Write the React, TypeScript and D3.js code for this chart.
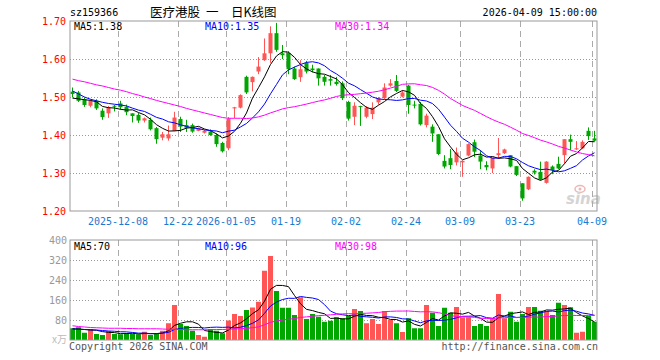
import React from 'react';
import * as d3 from 'd3';

// ---------- data ----------
const dates = [
  '2025-11-26','2025-11-27','2025-11-28','2025-12-01','2025-12-02','2025-12-03','2025-12-04','2025-12-05',
  '2025-12-08','2025-12-09','2025-12-10','2025-12-11','2025-12-12',
  '2025-12-15','2025-12-16','2025-12-17','2025-12-18','2025-12-19',
  '2025-12-22','2025-12-23','2025-12-24','2025-12-25','2025-12-26',
  '2025-12-29','2025-12-30','2025-12-31',
  '2026-01-05','2026-01-06','2026-01-07','2026-01-08','2026-01-09',
  '2026-01-12','2026-01-13','2026-01-14','2026-01-15','2026-01-16',
  '2026-01-19','2026-01-20','2026-01-21','2026-01-22','2026-01-23',
  '2026-01-26','2026-01-27','2026-01-28','2026-01-29','2026-01-30',
  '2026-02-02','2026-02-03','2026-02-04','2026-02-05','2026-02-06',
  '2026-02-09','2026-02-10','2026-02-11','2026-02-12','2026-02-13',
  '2026-02-24','2026-02-25','2026-02-26','2026-02-27',
  '2026-03-02','2026-03-03','2026-03-04','2026-03-05','2026-03-06',
  '2026-03-09','2026-03-10','2026-03-11','2026-03-12','2026-03-13',
  '2026-03-16','2026-03-17','2026-03-18','2026-03-19','2026-03-20',
  '2026-03-23','2026-03-24','2026-03-25','2026-03-26','2026-03-27',
  '2026-03-30','2026-03-31','2026-04-01','2026-04-02','2026-04-03',
  '2026-04-07','2026-04-08','2026-04-09',
];

const opens = [
  1.514,1.512,1.494,1.477,1.490,1.464,1.457,1.477,
  1.483,1.474,1.457,1.453,1.438,
  1.440,1.418,1.393,1.391,1.411,
  1.442,1.426,1.426,1.411,1.406,
  1.409,1.400,1.379,
  1.365,1.470,1.472,1.553,1.539,
  1.567,1.597,1.615,1.668,1.615,
  1.616,1.575,1.552,1.590,1.575,
  1.575,1.553,1.547,1.540,1.536,
  1.487,1.448,1.476,1.448,1.455,
  1.486,1.497,1.530,1.542,1.501,
  1.530,1.480,1.482,1.426,
  1.422,1.402,1.332,1.339,1.328,
  1.328,1.346,1.381,1.346,1.321,
  1.312,1.347,1.352,1.347,1.318,
  1.273,1.257,1.306,1.303,1.274,
  1.317,1.324,1.347,1.389,1.362,
  1.365,1.411,1.391,
];
const highs = [
  1.525,1.516,1.499,1.494,1.494,1.470,1.476,1.479,
  1.490,1.480,1.457,1.458,1.446,
  1.446,1.421,1.408,1.425,1.461,
  1.448,1.440,1.430,1.420,1.413,
  1.415,1.404,1.382,
  1.447,1.474,1.507,1.556,1.554,
  1.605,1.654,1.686,1.695,1.637,
  1.620,1.580,1.597,1.595,1.585,
  1.575,1.558,1.558,1.553,1.541,
  1.490,1.486,1.477,1.476,1.486,
  1.500,1.536,1.547,1.558,1.518,
  1.532,1.490,1.487,1.456,
  1.428,1.402,1.347,1.363,1.367,
  1.333,1.378,1.388,1.360,1.331,
  1.340,1.392,1.364,1.347,1.318,
  1.273,1.291,1.310,1.330,1.331,
  1.320,1.343,1.389,1.401,1.384,
  1.386,1.420,1.411,
];
const lows = [
  1.499,1.487,1.474,1.473,1.466,1.440,1.445,1.462,
  1.467,1.452,1.433,1.432,1.433,
  1.412,1.377,1.386,1.385,1.410,
  1.408,1.408,1.406,1.410,1.404,
  1.398,1.369,1.354,
  1.360,1.444,1.470,1.508,1.515,
  1.560,1.595,1.590,1.619,1.600,
  1.560,1.545,1.540,1.562,1.565,
  1.530,1.530,1.530,1.530,1.492,
  1.438,1.426,1.424,1.444,1.442,
  1.480,1.494,1.527,1.513,1.499,
  1.456,1.470,1.425,1.420,
  1.382,1.347,1.312,1.310,1.320,
  1.290,1.344,1.342,1.310,1.307,
  1.300,1.337,1.350,1.315,1.292,
  1.227,1.255,1.296,1.281,1.272,
  1.297,1.310,1.325,1.360,1.361,
  1.363,1.387,1.383,
];
const closes = [
  1.508,1.490,1.479,1.490,1.470,1.447,1.473,1.475,
  1.473,1.460,1.450,1.438,1.444,
  1.415,1.389,1.402,1.402,1.446,
  1.422,1.419,1.409,1.418,1.411,
  1.400,1.376,1.357,
  1.443,1.473,1.505,1.512,1.553,
  1.580,1.615,1.668,1.624,1.610,
  1.573,1.547,1.573,1.567,1.571,
  1.549,1.540,1.543,1.534,1.497,
  1.443,1.477,1.474,1.472,1.472,
  1.497,1.525,1.536,1.516,1.512,
  1.479,1.479,1.428,1.451,
  1.404,1.350,1.317,1.321,1.354,
  1.332,1.376,1.356,1.330,1.315,
  1.340,1.352,1.362,1.317,1.295,
  1.233,1.290,1.301,1.283,1.330,
  1.308,1.312,1.389,1.382,1.365,
  1.382,1.397,1.385,
];
// volume in 10k lots
const volumes = [
  47,51,29,44,24,20,36,24,
  23,27,24,23,33,
  20,27,37,67,140,
  64,56,37,20,13,
  44,37,27,
  78,104,96,120,130,
  153,277,336,196,129,
  129,100,171,84,104,
  93,73,77,91,87,
  96,124,116,67,84,
  64,116,80,67,32,
  87,47,47,140,
  109,56,129,109,132,
  91,91,56,64,56,
  87,184,87,113,73,
  104,132,132,117,116,
  100,149,140,131,29,
  33,96,73,
];

// moving-average values before enough history is visible
const ma5Head = [1.497, 1.495, 1.493, 1.491];
const ma10Head = [1.516, 1.508, 1.500, 1.494, 1.490, 1.486, 1.483, 1.481, 1.479];
const ma30Head = [
  1.547,1.543,1.540,1.536,1.532,1.529,1.525,1.521,1.518,1.514,
  1.509,1.505,1.500,1.496,1.491,1.487,1.483,1.479,1.475,1.470,
  1.466,1.462,1.458,1.454,1.450,1.446,1.444,1.444,1.444,
];
const vma5Head = [45, 44, 42, 40];
const vma10Head = [44, 43, 42, 41, 40, 38, 36, 35, 33];
const vma30Head = [
  57,54,52,50,49,48,47,47,47,46,
  46,45,45,45,45,44,43,42,42,41,
  41,41,41,41,42,42,43,44,45,
];

const priceTicks = [1.7, 1.6, 1.5, 1.4, 1.3, 1.2];
const volTicks = [400, 320, 240, 160, 80];
const dateTicks = ['2025-12-08','2025-12-22','2026-01-05','2026-01-19','2026-02-02','2026-02-24','2026-03-09','2026-03-23','2026-04-09'];
const dateTickLabels = ['2025-12-08','12-22','2026-01-05','01-19','02-02','02-24','03-09','03-23','04-09'];

const code = 'sz159366';
const titleParts = ['医疗港股', '一', '日K线图'];
const stamp = '2026-04-09 15:00:00';
const priceLegend = ['MA5:1.38', 'MA10:1.35', 'MA30:1.34'];
const volLegend = ['MA5:70', 'MA10:96', 'MA30:98'];

// ---------- styling ----------
const RED = '#ff5555';
const GREEN = '#00a600';
const MONO = '"DejaVu Sans Mono", monospace';
const CJK = '"Noto Sans CJK SC", sans-serif';
const MA_COLORS = ['#000000', '#0000ff', '#ff00ff'];

function movingAvg(vals: number[], n: number, head: number[]): number[] {
  return vals.map((_, i) => (i < n - 1 ? head[i] : (d3.mean(vals.slice(i - n + 1, i + 1)) as number)));
}

export default function App() {
  const left = 70, right = 598;
  const pTop = 21, pBot = 211;
  const vTop = 240, vBot = 340;

  const x = d3.scaleBand<string>().domain(dates).range([left, right]).paddingInner(0).paddingOuter(0);
  const cx = (d: string) => (x(d) as number) + 2.5;
  const yP = d3.scaleLinear().domain([1.2, 1.7]).range([pBot, pTop]);
  const yV = d3.scaleLinear().domain([0, 400]).range([vBot, vTop]);

  const priceMAs = [
    movingAvg(closes, 5, ma5Head),
    movingAvg(closes, 10, ma10Head),
    movingAvg(closes, 30, ma30Head),
  ];
  const volMAs = [
    movingAvg(volumes, 5, vma5Head),
    movingAvg(volumes, 10, vma10Head),
    movingAvg(volumes, 30, vma30Head),
  ];

  const priceLine = d3.line<number>().x((_, i) => cx(dates[i])).y((v) => yP(v));
  const volLine = d3.line<number>().x((_, i) => cx(dates[i])).y((v) => yV(v));

  const isUp = (i: number) => closes[i] >= opens[i];

  return (
    <svg width={660} height={360} style={{ position: 'absolute', left: 0, top: 0, background: '#fff' }}
      fontFamily={MONO} fontSize={10}>
      <rect x={0} y={0} width={660} height={360} fill="#fff" />
      {/* header */}
      <text x={70} y={16} fill="#000">{code}</text>
      <text y={17} fill="#000" fontFamily={CJK} fontSize={12.5}>
        <tspan x={150}>{titleParts[0]}</tspan>
        <tspan x={206}>{titleParts[1]}</tspan>
        <tspan x={231}>{titleParts[2]}</tspan>
      </text>
      <text x={597} y={16} fill="#000" textAnchor="end">{stamp}</text>

      {/* price panel grid */}
      {priceTicks.slice(1, -1).map((t) => (
        <line key={'pg' + t} x1={left} x2={right - 1} y1={Math.round(yP(t)) + 0.5} y2={Math.round(yP(t)) + 0.5}
          stroke="#999" strokeDasharray="1,2" />
      ))}
      {dateTicks.map((d) => (
        <line key={'pv' + d} x1={Math.round(x(d) as number) + 0.5} x2={Math.round(x(d) as number) + 0.5}
          y1={pTop} y2={pBot} stroke="#aaa" strokeDasharray="6,4" />
      ))}
      {priceTicks.map((t) => (
        <text key={'pl' + t} x={66} y={yP(t) + 3.5} textAnchor="end" fill="#ff0000">{t.toFixed(2)}</text>
      ))}
      {dateTicks.map((d, i) => (
        <text key={'dl' + d} x={Math.round(x(d) as number)} y={225} textAnchor="middle" fill="#1a7ad0">
          {dateTickLabels[i]}
        </text>
      ))}

      {/* watermark */}
      <g opacity={0.5}>
        <ellipse cx={580} cy={189} rx={5} ry={3.5} fill="none" stroke="#e07070" strokeWidth={1.5} />
        <circle cx={580} cy={189} r={1.5} fill="#e07070" />
        <text x={566} y={204} fill="#aaa" fontFamily="DejaVu Sans, sans-serif" fontStyle="italic" fontWeight="bold"
          fontSize={15}>sina</text>
      </g>

      {/* candles */}
      {dates.map((d, i) => {
        const col = isUp(i) ? RED : GREEN;
        const x0 = x(d) as number;
        const yo = yP(opens[i]);
        const yc = yP(closes[i]);
        const top = Math.min(yo, yc);
        const h = Math.max(1, Math.abs(yo - yc));
        return (
          <g key={'c' + d}>
            <line x1={cx(d)} x2={cx(d)} y1={yP(highs[i])} y2={yP(lows[i])} stroke={col} strokeWidth={1} />
            <rect x={x0 + 0.5} y={top} width={4} height={h} fill={col} />
          </g>
        );
      })}

      {/* price MAs */}
      {priceMAs.map((m, k) => (
        <path key={'pma' + k} d={priceLine(m) as string} fill="none" stroke={MA_COLORS[k]} strokeWidth={1} />
      ))}

      {/* price legend */}
      <text x={74} y={30} fill={MA_COLORS[0]}>{priceLegend[0]}</text>
      <text x={205} y={30} fill={MA_COLORS[1]}>{priceLegend[1]}</text>
      <text x={335} y={30} fill={MA_COLORS[2]}>{priceLegend[2]}</text>

      <rect x={left} y={pTop} width={right - 1 - left} height={pBot - pTop} fill="none" stroke="#999" strokeWidth={1} />

      {/* volume panel grid */}
      {volTicks.slice(1).map((t) => (
        <line key={'vg' + t} x1={left} x2={right - 1} y1={Math.round(yV(t)) + 0.5} y2={Math.round(yV(t)) + 0.5}
          stroke="#999" strokeDasharray="1,2" />
      ))}
      {dateTicks.map((d) => (
        <line key={'vv' + d} x1={Math.round(x(d) as number) + 0.5} x2={Math.round(x(d) as number) + 0.5}
          y1={vTop} y2={vBot} stroke="#aaa" strokeDasharray="6,4" />
      ))}
      {volTicks.map((t) => (
        <text key={'vl' + t} x={67} y={yV(t) + 3.5} textAnchor="end" fill="#999">{t}</text>
      ))}
      <text x={67} y={343} textAnchor="end" fill="#bbb" fontFamily={CJK} fontSize={10}>x万</text>

      {/* volume bars */}
      {dates.map((d, i) => (
        <rect key={'v' + d} x={x(d) as number} y={yV(volumes[i])} width={5} height={vBot - yV(volumes[i])}
          fill={isUp(i) ? RED : GREEN} />
      ))}

      {/* volume MAs */}
      {volMAs.map((m, k) => (
        <path key={'vma' + k} d={volLine(m) as string} fill="none" stroke={MA_COLORS[k]} strokeWidth={1} />
      ))}

      <text x={74} y={250} fill={MA_COLORS[0]}>{volLegend[0]}</text>
      <text x={205} y={250} fill={MA_COLORS[1]}>{volLegend[1]}</text>
      <text x={335} y={250} fill={MA_COLORS[2]}>{volLegend[2]}</text>

      <rect x={left} y={vTop} width={right - 1 - left} height={vBot - vTop} fill="none" stroke="#999" strokeWidth={1} />

      {/* footer */}
      <text x={69} y={350} fill="#555">Copyright 2026 SINA.COM</text>
      <text x={598} y={350} textAnchor="end" fill="#555">http://finance.sina.com.cn</text>
    </svg>
  );
}
